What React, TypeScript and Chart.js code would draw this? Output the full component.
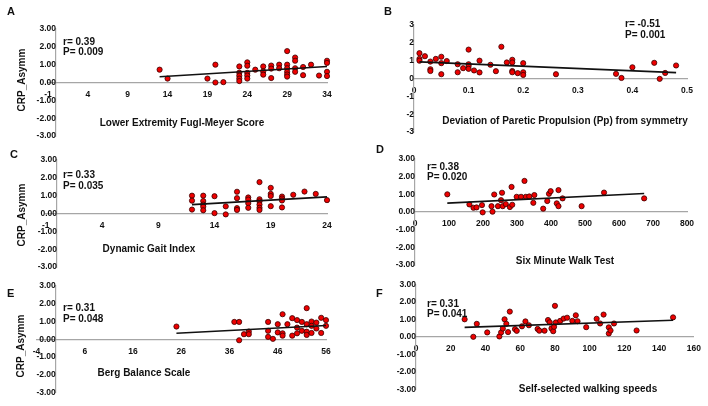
import { useEffect, useRef } from "react";
import { Chart, registerables } from "chart.js";

Chart.register(...registerables);

const FONT = '"Liberation Sans", Arial, Helvetica, sans-serif';

// ---------- data ----------
const yTicks = [-3, -2, -1, 0, 1, 2, 3];

// A: Lower Extremity Fugl-Meyer Score
const aTicksX = [-1, 4, 9, 14, 19, 24, 29, 34];
const aX = [13, 14, 19, 20, 20, 21, 23, 23, 23, 23, 23, 24, 24, 24, 24, 24, 25, 26, 26, 26, 27, 27, 27, 28, 28, 29, 29, 29, 29, 29, 29, 30, 30, 30, 30, 31, 31, 32, 33, 34, 34, 34, 34];
const aY = [0.72, 0.22, 0.22, 1.0, 0.0, 0.02, 0.9, 0.55, 0.38, 0.22, 0.08, 1.13, 0.94, 0.54, 0.39, 0.22, 0.72, 0.9, 0.62, 0.44, 0.95, 0.78, 0.25, 1.0, 0.8, 1.76, 1.0, 0.8, 0.6, 0.45, 0.33, 1.4, 1.22, 0.8, 0.6, 0.87, 0.41, 1.0, 0.39, 1.22, 1.1, 0.6, 0.36];
const aTrendX = [13, 34];
const aTrendY = [0.32, 0.9];

// B: Deviation of Paretic Propulsion
const bTicksX = [0, 0.1, 0.2, 0.3, 0.4, 0.5];
const bX = [0.01, 0.01, 0.01, 0.02, 0.03, 0.03, 0.03, 0.04, 0.05, 0.05, 0.05, 0.06, 0.08, 0.08, 0.09, 0.1, 0.1, 0.1, 0.1, 0.11, 0.12, 0.12, 0.14, 0.15, 0.16, 0.17, 0.18, 0.18, 0.18, 0.18, 0.19, 0.2, 0.2, 0.2, 0.26, 0.37, 0.38, 0.4, 0.44, 0.45, 0.46, 0.48];
const bY = [1.42, 1.1, 1.0, 1.25, 0.95, 0.52, 0.42, 1.1, 1.22, 0.86, 0.24, 0.98, 0.8, 0.35, 0.58, 1.62, 0.8, 0.7, 0.54, 0.45, 1.0, 0.34, 0.77, 0.41, 1.78, 0.9, 1.05, 0.9, 0.42, 0.35, 0.3, 0.86, 0.35, 0.2, 0.24, 0.26, 0.03, 0.63, 0.88, -0.02, 0.31, 0.73];
const bTrendX = [0.01, 0.48];
const bTrendY = [0.93, 0.33];

// C: Dynamic Gait Index
const cTicksX = [-1, 4, 9, 14, 19, 24];
const cX = [12, 12, 12, 13, 13, 13, 13, 13, 14, 14, 15, 15, 16, 16, 16, 16, 17, 17, 17, 17, 18, 18, 18, 18, 18, 18, 19, 19, 19, 19, 20, 20, 20, 20, 21, 22, 23, 24];
const cY = [1.0, 0.72, 0.22, 1.0, 0.7, 0.5, 0.38, 0.18, 0.97, 0.02, 0.4, -0.05, 1.22, 0.86, 0.3, 0.2, 0.9, 0.78, 0.58, 0.32, 1.76, 0.8, 0.68, 0.5, 0.32, 0.2, 1.44, 1.1, 0.98, 0.41, 0.95, 0.84, 0.73, 0.34, 1.05, 1.23, 1.1, 0.75];
const cTrendX = [12, 24];
const cTrendY = [0.5, 0.93];

// D: Six Minute Walk Test
const dTicksX = [0, 100, 200, 300, 400, 500, 600, 700, 800];
const dX = [95, 160, 172, 181, 197, 199, 225, 228, 233, 244, 253, 256, 258, 267, 279, 284, 286, 299, 312, 322, 326, 336, 348, 351, 377, 389, 394, 399, 417, 422, 422, 434, 490, 556, 674];
const dY = [1.0, 0.43, 0.24, 0.26, 0.39, -0.02, 0.33, 0.02, 0.99, 0.33, 0.67, 1.09, 0.33, 0.45, 0.28, 1.42, 0.41, 0.86, 0.86, 1.76, 0.86, 0.88, 0.52, 0.96, 0.19, 0.62, 1.03, 1.18, 0.49, 0.33, 1.24, 0.77, 0.33, 1.1, 0.77];
const dTrendX = [95, 674];
const dTrendY = [0.5, 1.05];

// E: Berg Balance Scale
const eTicksX = [-4, 6, 16, 26, 36, 46, 56];
const eX = [25, 37, 38, 38, 39, 40, 40, 44, 44, 44, 45, 46, 46, 47, 47, 47, 48, 49, 49, 50, 50, 50, 51, 51, 52, 52, 52, 52, 53, 53, 53, 54, 54, 55, 55, 56, 56];
const eY = [0.71, 0.97, 0.97, -0.06, 0.28, 0.43, 0.28, 0.97, 0.47, 0.13, 0.02, 0.84, 0.38, 1.4, 0.33, 0.2, 0.84, 1.18, 0.2, 1.07, 0.65, 0.33, 0.97, 0.47, 1.74, 0.84, 0.42, 0.24, 0.99, 0.75, 0.35, 0.93, 0.6, 1.2, 0.35, 1.07, 0.75];
const eTrendX = [25, 56];
const eTrendY = [0.33, 0.77];

// F: Self-selected walking speeds
const fTicksX = [0, 20, 40, 60, 80, 100, 120, 140, 160];
const fX = [28, 33, 35, 41, 48, 49, 50, 51, 52, 53, 54, 57, 58, 61, 63, 65, 70, 71, 74, 76, 77, 78, 79, 80, 79.5, 80.5, 83, 85, 87, 90, 92, 93, 98, 104, 106, 108, 111, 111, 112, 114, 127, 148];
const fY = [1.0, 0.0, 0.74, 0.25, 0.02, 0.25, 0.47, 1.0, 0.74, 0.27, 1.44, 0.44, 0.34, 0.6, 0.88, 0.66, 0.45, 0.35, 0.35, 0.96, 0.83, 0.48, 0.32, 1.77, 0.57, 0.82, 0.91, 1.04, 1.09, 0.91, 1.23, 0.89, 0.55, 1.03, 0.76, 1.27, 0.54, 0.19, 0.36, 0.76, 0.36, 1.11];
const fTrendX = [28, 148];
const fTrendY = [0.54, 0.95];

// ---------- layout ----------
const W = 708;
const H = 406;

const fmt2 = (v: number) => v.toFixed(2);
const fmtInt = (v: number) => String(Math.round(v));
const fmtB = (v: number) => (v === 0 ? "0" : v.toFixed(1));
const fmtPlain = (v: number) => String(v);

type PanelCfg = {
  letter: string;
  xs: number[];
  ys: number[];
  tx: number[];
  ty: number[];
  xTicks: number[];
  xFmt: (v: number) => string;
  yFmt: (v: number) => string;
  area: [number, number, number, number];
  letterPos: [number, number];
  r: string;
  p: string;
  rPos: [number, number];
  pPos: [number, number];
  xTitle: string;
  xTitlePos: [number, number];
  yTitlePos?: [number, number];
};

const panels: PanelCfg[] = [
  {
    letter: "A", xs: aX, ys: aY, tx: aTrendX, ty: aTrendY, xTicks: aTicksX, xFmt: fmtPlain, yFmt: fmt2,
    area: [48, 29, 327, 136], letterPos: [7, 15], r: "r= 0.39", p: "P= 0.009", rPos: [63, 44.5], pPos: [63, 54.5],
    xTitle: "Lower Extremity Fugl-Meyer Score", xTitlePos: [182, 126], yTitlePos: [22.5, 80],
  },
  {
    letter: "B", xs: bX, ys: bY, tx: bTrendX, ty: bTrendY, xTicks: bTicksX, xFmt: fmtB, yFmt: fmtInt,
    area: [414, 25, 687, 132], letterPos: [384, 15], r: "r= -0.51", p: "P= 0.001", rPos: [625, 27], pPos: [625, 37.5],
    xTitle: "Deviation of Paretic Propulsion (Pp) from symmetry", xTitlePos: [565, 124],
  },
  {
    letter: "C", xs: cX, ys: cY, tx: cTrendX, ty: cTrendY, xTicks: cTicksX, xFmt: fmtPlain, yFmt: fmt2,
    area: [45.75, 160, 327, 267], letterPos: [10, 158], r: "r= 0.33", p: "P= 0.035", rPos: [63, 177.5], pPos: [63, 188.5],
    xTitle: "Dynamic Gait Index", xTitlePos: [149, 251.5], yTitlePos: [22.5, 215],
  },
  {
    letter: "D", xs: dX, ys: dY, tx: dTrendX, ty: dTrendY, xTicks: dTicksX, xFmt: fmtPlain, yFmt: fmt2,
    area: [415, 159, 687, 265], letterPos: [376, 152.5], r: "r= 0.38", p: "P= 0.020", rPos: [427, 169.5], pPos: [427, 179.5],
    xTitle: "Six Minute Walk Test", xTitlePos: [565, 263.5],
  },
  {
    letter: "E", xs: eX, ys: eY, tx: eTrendX, ty: eTrendY, xTicks: eTicksX, xFmt: fmtPlain, yFmt: fmt2,
    area: [36.5, 285.7, 326, 392.7], letterPos: [7, 296.5], r: "r= 0.31", p: "P= 0.048", rPos: [63, 311], pPos: [63, 322],
    xTitle: "Berg Balance Scale", xTitlePos: [144, 376], yTitlePos: [21.5, 346],
  },
  {
    letter: "F", xs: fX, ys: fY, tx: fTrendX, ty: fTrendY, xTicks: fTicksX, xFmt: fmtPlain, yFmt: fmt2,
    area: [416, 284.3, 694, 389.3], letterPos: [376, 296.5], r: "r= 0.31", p: "P= 0.041", rPos: [427, 306.7], pPos: [427, 317.3],
    xTitle: "Self-selected walking speeds", xTitlePos: [588, 391.5],
  },
];

const TEXT = "#111111";
const AXIS = "#a6a6a6";

function makeTextPlugin(p: PanelCfg) {
  return {
    id: "panelText" + p.letter,
    afterDraw(chart: any) {
      const ctx: CanvasRenderingContext2D = chart.ctx;
      ctx.save();
      ctx.fillStyle = TEXT;
      ctx.textBaseline = "alphabetic";
      ctx.textAlign = "left";
      ctx.font = `bold 11px ${FONT}`;
      ctx.fillText(p.letter, p.letterPos[0], p.letterPos[1]);
      ctx.font = `bold 10px ${FONT}`;
      ctx.fillText(p.r, p.rPos[0], p.rPos[1]);
      ctx.fillText(p.p, p.pPos[0], p.pPos[1]);
      ctx.textAlign = "center";
      ctx.fillText(p.xTitle, p.xTitlePos[0], p.xTitlePos[1]);
      if (p.yTitlePos) {
        ctx.translate(p.yTitlePos[0], p.yTitlePos[1]);
        ctx.rotate(-Math.PI / 2);
        ctx.textBaseline = "middle";
        ctx.fillText("CRP_Asymm", 0, 0);
      }
      ctx.restore();
    },
  };
}

function buildConfig(p: PanelCfg): any {
  const [l, t, r, b] = p.area;
  const tickFont = { family: FONT, size: 8.5, weight: "bold" as const };
  return {
    type: "scatter",
    data: {
      datasets: [
        {
          type: "line",
          data: p.tx.map((x, i) => ({ x, y: p.ty[i] })),
          borderColor: "#111111",
          borderWidth: 1.6,
          pointRadius: 0,
          fill: false,
          clip: false,
          order: 0,
        },
        {
          type: "scatter",
          data: p.xs.map((x, i) => ({ x, y: p.ys[i] })),
          backgroundColor: "#ee0000",
          borderColor: "#3a0000",
          borderWidth: 0.8,
          pointRadius: 2.6,
          clip: false,
          order: 1,
        },
      ],
    },
    options: {
      responsive: false,
      animation: false,
      devicePixelRatio: 1,
      layout: { padding: { left: l, top: t, right: W - r, bottom: H - b } },
      plugins: { legend: { display: false }, tooltip: { enabled: false } },
      scales: {
        x: {
          type: "linear",
          min: p.xTicks[0],
          max: p.xTicks[p.xTicks.length - 1],
          position: { y: 0 },
          afterFit: (s: any) => { s.height = 0; },
          afterBuildTicks: (s: any) => { s.ticks = p.xTicks.map((v) => ({ value: v })); },
          grid: { display: false, drawTicks: false },
          border: { display: true, color: AXIS, width: 1.2 },
          ticks: {
            padding: 7,
            autoSkip: false,
            maxRotation: 0,
            color: TEXT,
            font: tickFont,
            callback: (v: number) => p.xFmt(v),
          },
        },
        y: {
          type: "linear",
          min: -3,
          max: 3,
          position: { x: 0 },
          afterFit: (s: any) => { s.width = 0; },
          afterBuildTicks: (s: any) => { s.ticks = yTicks.map((v) => ({ value: v })); },
          grid: { display: false, drawTicks: false },
          border: { display: true, color: AXIS, width: 1.2 },
          ticks: {
            padding: 7,
            autoSkip: false,
            color: TEXT,
            font: tickFont,
            callback: (v: number) => p.yFmt(v),
          },
        },
      },
    },
    plugins: [makeTextPlugin(p)],
  };
}

function Panel({ cfg }: { cfg: PanelCfg }) {
  const ref = useRef<HTMLCanvasElement>(null);
  useEffect(() => {
    const chart = new Chart(ref.current as HTMLCanvasElement, buildConfig(cfg));
    return () => chart.destroy();
  }, [cfg]);
  return (
    <canvas
      ref={ref}
      width={W}
      height={H}
      style={{ position: "absolute", left: 0, top: 0, width: W, height: H }}
    />
  );
}

export default function App() {
  return (
    <div style={{ position: "fixed", left: 0, top: 0, width: W, height: H, background: "#ffffff", overflow: "hidden" }}>
      {panels.map((p) => (
        <Panel key={p.letter} cfg={p} />
      ))}
    </div>
  );
}
